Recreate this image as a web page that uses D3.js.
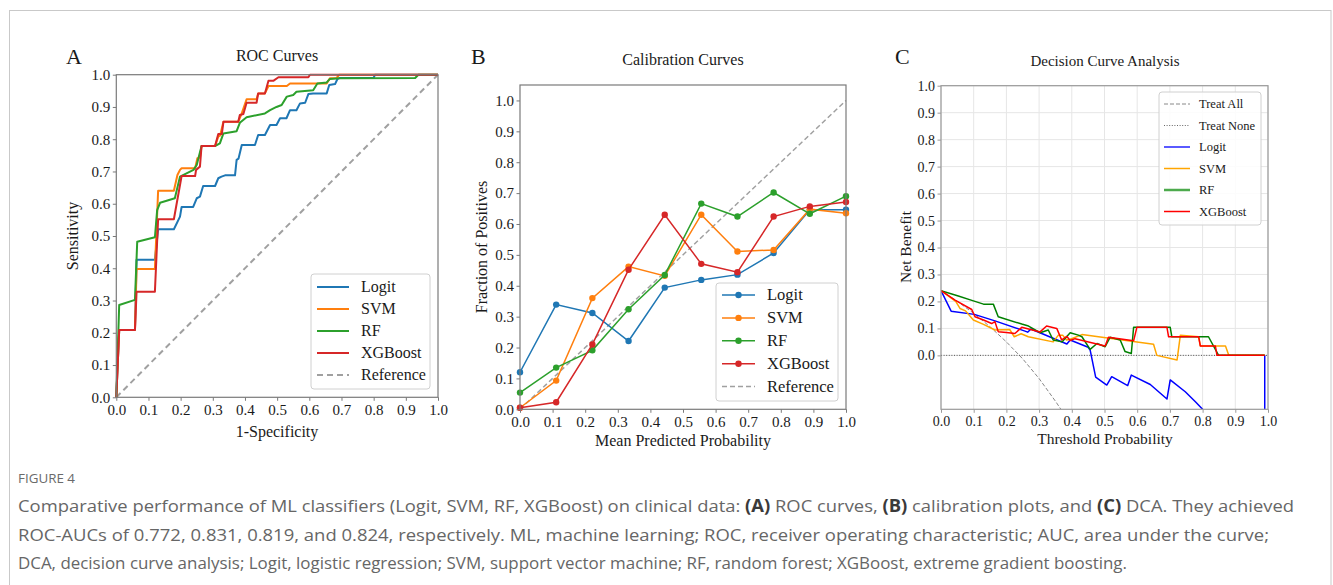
<!DOCTYPE html>
<html>
<head>
<meta charset="utf-8">
<script src="https://cdn.jsdelivr.net/npm/d3@7"></script>
<style>
  body { margin: 0; background: #fff; }
  svg { display: block; }
</style>
</head>
<body>
<svg id="fig" width="1333" height="585"></svg>
<script>
// ---------- data ----------
const models = ["Logit", "SVM", "RF", "XGBoost"];
const tickValues = [0, 0.1, 0.2, 0.3, 0.4, 0.5, 0.6, 0.7, 0.8, 0.9, 1.0];

// ROC curves: [1-specificity, sensitivity]
const rocLogit = [[0,0],[0.009,0.209],[0.058,0.209],[0.063,0.426],[0.12,0.426],[0.13,0.521],[0.179,0.521],[0.198,0.56],[0.203,0.59],[0.239,0.59],[0.25,0.617],[0.26,0.622],[0.27,0.655],[0.307,0.655],[0.317,0.679],[0.327,0.684],[0.338,0.688],[0.369,0.688],[0.374,0.736],[0.38,0.74],[0.39,0.782],[0.431,0.782],[0.441,0.813],[0.462,0.813],[0.478,0.844],[0.498,0.844],[0.509,0.865],[0.529,0.865],[0.54,0.89],[0.56,0.89],[0.571,0.911],[0.587,0.913],[0.597,0.94],[0.612,0.942],[0.654,0.942],[0.662,0.968],[0.68,0.971],[0.687,0.986],[0.695,0.99],[0.80,0.99],[0.804,1.0],[1,1]];
const rocSVM = [[0,0],[0.009,0.209],[0.058,0.209],[0.063,0.398],[0.12,0.398],[0.13,0.64],[0.179,0.64],[0.19,0.689],[0.198,0.705],[0.203,0.71],[0.245,0.71],[0.252,0.741],[0.26,0.743],[0.265,0.779],[0.307,0.779],[0.317,0.808],[0.323,0.812],[0.333,0.854],[0.379,0.854],[0.39,0.88],[0.405,0.924],[0.436,0.924],[0.441,0.942],[0.462,0.942],[0.473,0.965],[0.53,0.965],[0.54,0.973],[0.654,0.973],[0.664,0.989],[0.685,0.99],[0.693,1.0],[1,1]];
const rocRF = [[0,0],[0.009,0.286],[0.058,0.302],[0.065,0.482],[0.12,0.496],[0.127,0.58],[0.136,0.603],[0.182,0.617],[0.198,0.684],[0.24,0.705],[0.25,0.72],[0.265,0.779],[0.307,0.779],[0.322,0.787],[0.333,0.818],[0.374,0.825],[0.384,0.851],[0.405,0.868],[0.462,0.88],[0.478,0.89],[0.498,0.9],[0.514,0.906],[0.53,0.932],[0.55,0.937],[0.56,0.947],[0.612,0.952],[0.625,0.973],[0.654,0.976],[0.664,0.987],[0.695,0.989],[0.929,0.99],[0.939,1.0],[1,1]];
const rocXGB = [[0,0],[0.009,0.209],[0.058,0.209],[0.063,0.327],[0.12,0.327],[0.13,0.552],[0.179,0.552],[0.198,0.658],[0.203,0.686],[0.245,0.686],[0.248,0.705],[0.26,0.715],[0.265,0.779],[0.307,0.779],[0.317,0.816],[0.328,0.816],[0.333,0.854],[0.379,0.854],[0.384,0.875],[0.395,0.878],[0.405,0.913],[0.436,0.913],[0.441,0.942],[0.462,0.942],[0.473,0.981],[0.488,0.981],[0.504,0.992],[0.597,0.992],[0.602,1.0],[1,1]];

// Calibration curves: mean predicted probability per bin, fraction of positives
const calBins = [0, 0.111, 0.222, 0.333, 0.444, 0.556, 0.667, 0.778, 0.889, 1.0];
const calLogit = [0.12, 0.339, 0.312, 0.221, 0.394, 0.419, 0.436, 0.506, 0.646, 0.646];
const calSVM   = [0.005, 0.093, 0.36, 0.462, 0.432, 0.63, 0.511, 0.516, 0.648, 0.635];
const calRF    = [0.054, 0.135, 0.191, 0.324, 0.435, 0.666, 0.624, 0.702, 0.633, 0.69];
const calXGB   = [0.005, 0.023, 0.21, 0.452, 0.63, 0.471, 0.444, 0.624, 0.657, 0.671];

// Decision curves: [threshold probability, net benefit]
const dcaTreatAll = [[0,0.24],[0.05,0.2],[0.1,0.156],[0.15,0.106],[0.2,0.05],[0.25,-0.013],[0.3,-0.086],[0.35,-0.17],[0.37,-0.206]];
const dcaTreatNone = [[0,0],[1,0]];
const dcaLogit = [[0,0.24],[0.031,0.164],[0.102,0.152],[0.165,0.128],[0.257,0.09],[0.265,0.086],[0.275,0.098],[0.385,0.042],[0.395,0.057],[0.45,0.03],[0.456,0.02],[0.473,-0.081],[0.507,-0.11],[0.522,-0.079],[0.571,-0.112],[0.582,-0.073],[0.64,-0.108],[0.691,-0.162],[0.701,-0.091],[0.747,-0.135],[0.778,-0.172],[0.80,-0.2],[0.82,-0.24],[0.99,-3.0],[0.99,0]];
const dcaSVM = [[0,0.24],[0.045,0.2],[0.058,0.174],[0.075,0.165],[0.099,0.131],[0.13,0.115],[0.165,0.094],[0.21,0.096],[0.224,0.069],[0.245,0.08],[0.267,0.069],[0.343,0.05],[0.359,0.075],[0.372,0.075],[0.384,0.057],[0.395,0.06],[0.431,0.077],[0.65,0.041],[0.66,0],[0.722,-0.017],[0.732,0.075],[0.788,0.069],[0.793,0.035],[0.87,0.035],[0.88,0],[0.99,0]];
const dcaRF = [[0,0.24],[0.053,0.22],[0.099,0.202],[0.13,0.19],[0.16,0.19],[0.175,0.143],[0.247,0.116],[0.265,0.11],[0.303,0.084],[0.328,0.094],[0.343,0.057],[0.37,0.05],[0.395,0.084],[0.42,0.075],[0.431,0.069],[0.456,0.022],[0.477,0.044],[0.502,0.032],[0.517,0.067],[0.548,0.057],[0.563,0.014],[0.582,0.007],[0.589,0.104],[0.701,0.104],[0.706,0.069],[0.818,0.069],[0.849,0],[0.99,0]];
const dcaXGB = [[0,0.24],[0.043,0.205],[0.094,0.17],[0.104,0.143],[0.13,0.131],[0.155,0.118],[0.165,0.125],[0.175,0.088],[0.2,0.085],[0.226,0.081],[0.247,0.104],[0.303,0.087],[0.323,0.109],[0.354,0.1],[0.369,0.057],[0.385,0.07],[0.395,0.055],[0.41,0.062],[0.502,0.035],[0.512,0.067],[0.589,0.054],[0.599,0.104],[0.691,0.104],[0.696,0.069],[0.788,0.069],[0.793,0.035],[0.839,0.035],[0.844,0],[0.99,0]];

// Caption
const figureLabel = "FIGURE 4";
const captionLines = [
  [["Comparative performance of ML classifiers (Logit, SVM, RF, XGBoost) on clinical data: ",0],["(A)",1],[" ROC curves, ",0],["(B)",1],[" calibration plots, and ",0],["(C)",1],[" DCA. They achieved",0]],
  [["ROC-AUCs of 0.772, 0.831, 0.819, and 0.824, respectively. ML, machine learning; ROC, receiver operating characteristic; AUC, area under the curve;",0]],
  [["DCA, decision curve analysis; Logit, logistic regression; SVM, support vector machine; RF, random forest; XGBoost, extreme gradient boosting.",0]]
];

// ---------- styling ----------
const tab10 = ["#1f77b4", "#ff7f0e", "#2ca02c", "#d62728"];
const dcaColors = ["blue", "orange", "green", "red"];
const serif = "'Liberation Serif', 'Times New Roman', serif";

const svg = d3.select("#fig");

// outer frame
svg.append("rect").attr("x", 9.5).attr("y", 10.5).attr("width", 1321.5).attr("height", 620)
  .attr("fill", "none").attr("stroke", "#c9c9c9").attr("stroke-width", 1);

function drawAxes(g, x, y, yTicks, opts) {
  const fs = opts.fontSize;
  const ax = g.append("g").attr("transform", `translate(0,${y.range()[0]})`)
    .call(d3.axisBottom(x).tickValues(tickValues).tickFormat(d3.format(".1f")).tickSize(3.5).tickPadding(2.5));
  const ay = g.append("g").attr("transform", `translate(${x.range()[0]},0)`)
    .call(d3.axisLeft(y).tickValues(yTicks).tickFormat(d3.format(".1f")).tickSize(3.5).tickPadding(2.5));
  [ax, ay].forEach(a => {
    a.select(".domain").remove();
    a.selectAll("line").attr("stroke", opts.spine);
    a.selectAll("text").attr("font-family", serif).attr("font-size", fs).attr("fill", "#1a1a1a");
  });
  ax.selectAll("text").attr("dy", "0.78em");
}

function spines(g, x, y, color) {
  const [x0, x1] = x.range(); const [y0, y1] = y.range();
  g.append("rect").attr("x", x0).attr("y", y1).attr("width", x1 - x0).attr("height", y0 - y1)
    .attr("fill", "none").attr("stroke", color).attr("stroke-width", 1.2);
}

function text(g, x, y, s, size, anchor, extra) {
  const t = g.append("text").attr("x", x).attr("y", y).text(s)
    .attr("font-family", serif).attr("font-size", size).attr("fill", "#1a1a1a")
    .attr("text-anchor", anchor || "middle");
  if (extra) extra(t);
  return t;
}

function legend(g, box, rows, opts) {
  g.append("rect").attr("x", box.x).attr("y", box.y).attr("width", box.w).attr("height", box.h)
    .attr("rx", 3).attr("fill", "#fff").attr("fill-opacity", 0.85).attr("stroke", "#d0d0d0");
  rows.forEach((r, i) => {
    const cy = opts.y0 + i * opts.step;
    const ln = g.append("line").attr("x1", opts.lx0).attr("x2", opts.lx1).attr("y1", cy).attr("y2", cy)
      .attr("stroke", r.color).attr("stroke-width", r.width || 2);
    if (r.dash) ln.attr("stroke-dasharray", r.dash);
    if (r.marker) g.append("circle").attr("cx", (opts.lx0 + opts.lx1) / 2).attr("cy", cy).attr("r", 3.2).attr("fill", r.color);
    text(g, opts.tx, cy, r.label, opts.fontSize, "start", t => t.attr("dy", "0.33em"));
  });
}

const line = (x, y) => d3.line().x(d => x(d[0])).y(d => y(d[1]));

// ---------- Panel A: ROC ----------
{
  const g = svg.append("g");
  const x = d3.scaleLinear().domain([0, 1]).range([116.3, 438]);
  const y = d3.scaleLinear().domain([0, 1]).range([397.3, 74.7]);
  const L = line(x, y);
  g.append("path").attr("d", L([[0, 0], [1, 1]])).attr("fill", "none")
    .attr("stroke", "#a0a0a0").attr("stroke-width", 2).attr("stroke-dasharray", "6,4");
  [rocLogit, rocSVM, rocRF, rocXGB].forEach((d, i) => {
    g.append("path").attr("d", L(d)).attr("fill", "none").attr("stroke", tab10[i])
      .attr("stroke-width", 2).attr("stroke-linejoin", "round");
  });
  spines(g, x, y, "#7a7a7a");
  drawAxes(g, x, y, tickValues, { fontSize: 15, spine: "#7a7a7a" });
  text(g, 66, 64, "A", 22, "start");
  text(g, 277, 61, "ROC Curves", 16);
  text(g, 277, 437, "1-Specificity", 16);
  text(g, 0, 0, "Sensitivity", 16, "middle", t => t.attr("transform", "translate(78,236) rotate(-90)"));
  legend(g, { x: 311, y: 274, w: 119, h: 115 },
    models.map((m, i) => ({ label: m, color: tab10[i] })).concat([{ label: "Reference", color: "#a0a0a0", dash: "6,4" }]),
    { y0: 287, step: 22, lx0: 317, lx1: 349, tx: 361, fontSize: 16 });
}

// ---------- Panel B: Calibration ----------
{
  const g = svg.append("g");
  const x = d3.scaleLinear().domain([0, 1]).range([520, 846]);
  const y = d3.scaleLinear().domain([0, 1.05]).range([409.3, 85]);
  const L = line(x, y);
  g.append("path").attr("d", L([[0, 0], [1, 1]])).attr("fill", "none")
    .attr("stroke", "#a0a0a0").attr("stroke-width", 1.5).attr("stroke-dasharray", "5,3");
  [calLogit, calSVM, calRF, calXGB].forEach((vals, i) => {
    const pts = calBins.map((b, j) => [b, vals[j]]);
    g.append("path").attr("d", L(pts)).attr("fill", "none").attr("stroke", tab10[i]).attr("stroke-width", 1.5);
    g.selectAll(null).data(pts).enter().append("circle")
      .attr("cx", d => x(d[0])).attr("cy", d => y(d[1])).attr("r", 3.2).attr("fill", tab10[i]);
  });
  spines(g, x, y, "#7a7a7a");
  drawAxes(g, x, y, tickValues, { fontSize: 15, spine: "#7a7a7a" });
  text(g, 471, 64, "B", 22, "start");
  text(g, 683, 65, "Calibration Curves", 16);
  text(g, 683, 446, "Mean Predicted Probability", 16);
  text(g, 0, 0, "Fraction of Positives", 16, "middle", t => t.attr("transform", "translate(487,247) rotate(-90)"));
  legend(g, { x: 716, y: 283, w: 122, h: 118 },
    models.map((m, i) => ({ label: m, color: tab10[i], marker: true, width: 1.5 })).concat([{ label: "Reference", color: "#a0a0a0", dash: "5,3", width: 1.5 }]),
    { y0: 295, step: 22.9, lx0: 722, lx1: 755, tx: 767, fontSize: 16.5 });
}

// ---------- Panel C: Decision curves ----------
{
  const g = svg.append("g");
  const x = d3.scaleLinear().domain([0, 1]).range([941, 1268]);
  const y = d3.scaleLinear().domain([-0.2, 1.0]).range([409.3, 85.7]);
  const L = line(x, y);
  // grid
  g.selectAll(null).data(tickValues).enter().append("line")
    .attr("x1", d => x(d)).attr("x2", d => x(d)).attr("y1", y(-0.2)).attr("y2", y(1))
    .attr("stroke", "#e6e6e6").attr("stroke-width", 1);
  g.selectAll(null).data(tickValues).enter().append("line")
    .attr("x1", x(0)).attr("x2", x(1)).attr("y1", d => y(d)).attr("y2", d => y(d))
    .attr("stroke", "#e6e6e6").attr("stroke-width", 1);
  svg.append("clipPath").attr("id", "clipC").append("rect")
    .attr("x", x(0)).attr("y", y(1)).attr("width", x(1) - x(0)).attr("height", y(-0.2) - y(1));
  const pg = g.append("g").attr("clip-path", "url(#clipC)");
  pg.append("path").attr("d", L(dcaTreatAll)).attr("fill", "none").attr("stroke", "#888")
    .attr("stroke-width", 1).attr("stroke-dasharray", "4,2");
  pg.append("path").attr("d", L(dcaTreatNone)).attr("fill", "none").attr("stroke", "#555")
    .attr("stroke-width", 1).attr("stroke-dasharray", "1,1.6");
  [dcaLogit, dcaSVM, dcaRF, dcaXGB].forEach((d, i) => {
    pg.append("path").attr("d", L(d)).attr("fill", "none").attr("stroke", dcaColors[i])
      .attr("stroke-width", 1.5).attr("stroke-linejoin", "round");
  });
  spines(g, x, y, "#9a9a9a");
  drawAxes(g, x, y, tickValues, { fontSize: 14, spine: "#9a9a9a" });
  text(g, 895, 64, "C", 22, "start");
  text(g, 1105, 66, "Decision Curve Analysis", 15);
  text(g, 1105, 444, "Threshold Probability", 15.5);
  text(g, 0, 0, "Net Benefit", 15.5, "middle", t => t.attr("transform", "translate(911,247) rotate(-90)"));
  legend(g, { x: 1159, y: 92, w: 102, h: 133 }, [
    { label: "Treat All", color: "#888", dash: "4,2", width: 1 },
    { label: "Treat None", color: "#666", dash: "1,1.6", width: 1 },
    { label: "Logit", color: "#5a5aff", width: 2 },
    { label: "SVM", color: "orange", width: 1.5 },
    { label: "RF", color: "#4daa4d", width: 2.5 },
    { label: "XGBoost", color: "red", width: 1.5 }
  ], { y0: 104, step: 21.5, lx0: 1164, lx1: 1190, tx: 1199, fontSize: 12.5 });
}

// ---------- caption ----------
{
  const sans = "'Open Sans', 'Noto Sans', sans-serif";
  svg.append("text").attr("x", 18).attr("y", 483).text(figureLabel)
    .attr("font-family", sans).attr("font-size", 13).attr("fill", "#6a6a6a")
    .attr("textLength", 57).attr("lengthAdjust", "spacingAndGlyphs");
  const widths = [1276, 1251, 1109];
  const baselines = [512, 541, 569];
  captionLines.forEach((parts, i) => {
    const t = svg.append("text").attr("x", 18).attr("y", baselines[i])
      .attr("font-family", sans).attr("font-size", 17).attr("fill", "#666")
      .attr("textLength", widths[i]).attr("lengthAdjust", "spacingAndGlyphs");
    parts.forEach(([s, b]) => {
      t.append("tspan").text(s).attr("font-weight", b ? 700 : 400).attr("fill", b ? "#3a3a3a" : "#666");
    });
  });
}
</script>
</body>
</html>
